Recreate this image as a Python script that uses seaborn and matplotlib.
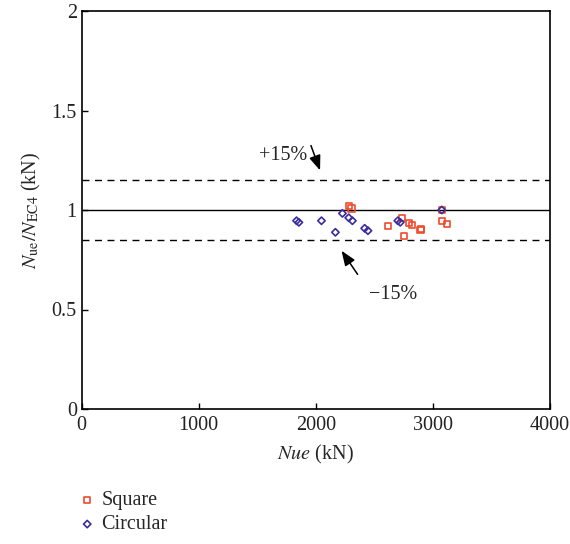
import matplotlib
matplotlib.use("Agg")
import matplotlib.pyplot as plt
import seaborn as sns
import pandas as pd

square_x = [2281, 2304, 2615, 2735, 2752, 2794, 2820, 2893, 2900, 3075, 3077, 3120]
square_y = [1.020, 1.008, 0.920, 0.958, 0.871, 0.933, 0.925, 0.900, 0.905, 1.000, 0.946, 0.928]
circ_x = [1835, 1855, 2048, 2167, 2227, 2281, 2312, 2417, 2445, 2700, 2721, 3075]
circ_y = [0.946, 0.938, 0.946, 0.888, 0.983, 0.961, 0.946, 0.908, 0.896, 0.946, 0.938, 1.000]
series_names = ["Square", "Circular"]
x_ticks = [0, 1000, 2000, 3000, 4000]
y_ticks = [0, 0.5, 1, 1.5, 2]
y_tick_labels = ["0", "0.5", "1", "1.5", "2"]
upper_limit = 1.15
lower_limit = 0.85

df = pd.DataFrame({
    "Nue": square_x + circ_x,
    "ratio": square_y + circ_y,
    "Type": [series_names[0]] * len(square_x) + [series_names[1]] * len(circ_x),
})

sns.set_style("ticks")
plt.rcParams["font.family"] = ["Liberation Serif", "DejaVu Serif"]
plt.rcParams["mathtext.fontset"] = "stix"

fig = plt.figure(figsize=(5.7, 5.44), dpi=100)
ax = fig.add_axes([81.7 / 570, 1 - 409 / 544, (550 - 81.7) / 570, (409 - 11) / 544])

colors = {"Square": "#f04a2c", "Circular": "#3a2d9c"}
markers = {"Square": "s", "Circular": "D"}
for name in series_names:
    sub = df[df["Type"] == name]
    sns.scatterplot(data=sub, x="Nue", y="ratio", ax=ax, marker=markers[name],
                    facecolor="none", edgecolor=colors[name], linewidth=1.2,
                    s=20 if name == "Square" else 14, label=name, zorder=3)

ax.axhline(1.0, color="black", lw=1.0, zorder=1)
ax.axhline(upper_limit, color="black", lw=1.0, ls=(0, (5, 4)), zorder=1)
ax.axhline(lower_limit, color="black", lw=1.0, ls=(0, (5, 4)), zorder=1)

ax.annotate("", xy=(2044, 1.186), xytext=(1950, 1.337),
            arrowprops=dict(arrowstyle="-|>,head_length=0.9,head_width=0.35", color="black", lw=1.1))
ax.text(1720, 1.276, "+15%", ha="center", va="center", fontsize=14.5)
ax.annotate("", xy=(2206, 0.807), xytext=(2370, 0.665),
            arrowprops=dict(arrowstyle="-|>,head_length=0.9,head_width=0.35", color="black", lw=1.1))
ax.text(2660, 0.573, "\u221215%", ha="center", va="center", fontsize=14.5)

ax.set_xlim(0, 4000)
ax.set_ylim(0, 2)
ax.set_xticks(x_ticks)
ax.set_xticklabels([str(t) for t in x_ticks])
ax.set_yticks(y_ticks)
ax.set_yticklabels(y_tick_labels)
ax.tick_params(direction="in", length=4, width=1, labelsize=14.5, color="black", labelcolor="#222222")
ax.tick_params(axis="x", pad=5)
for sp in ax.spines.values():
    sp.set_linewidth(1.2)
    sp.set_color("black")
ax.set_xlabel("$Nue$ (kN)", fontsize=14.5, labelpad=6)
ax.set_ylabel(r"$N_{\mathrm{ue}}/N_{\mathrm{EC4}}$ (kN)", fontsize=14.5, labelpad=6)

handles, labels = ax.get_legend_handles_labels()
ax.get_legend().remove()
fig.legend(handles, labels, loc="upper left", bbox_to_anchor=(59 / 570, 1 - 473 / 544),
           frameon=False, fontsize=14.5, handletextpad=0.2, labelspacing=0.25,
           handlelength=1.0)

fig.savefig("out.png", dpi=100)
